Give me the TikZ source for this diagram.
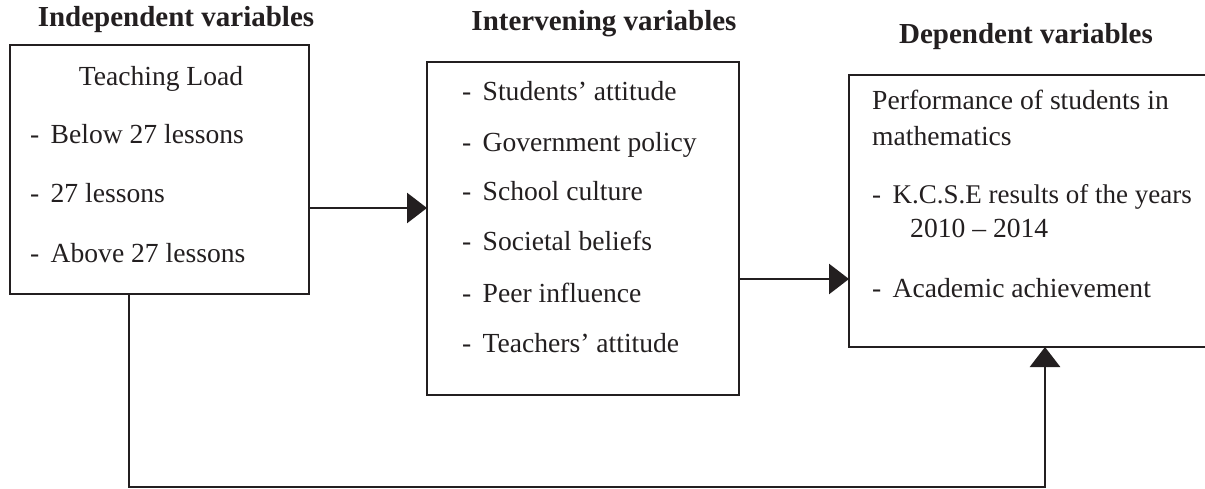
\documentclass[tikz,border=0pt]{standalone}
\usepackage{fontspec}
\setmainfont{Liberation Serif}
\usetikzlibrary{arrows.meta}
\definecolor{ink}{HTML}{231F20}
\newcommand{\bul}[1]{\makebox[20.5pt][l]{-}#1}
\begin{document}
\begin{tikzpicture}[x=1pt,y=-1pt,
  frame/.style={draw=ink, line width=1.5pt, anchor=north west, inner sep=0pt, outer sep=0pt},
  title/.style={anchor=base, inner sep=0pt, text=ink, font=\fontsize{29}{34}\selectfont\bfseries},
  item/.style={anchor=base west, inner sep=0pt, text=ink, font=\fontsize{27.6}{33}\selectfont},
  link/.style={line width=2.8pt, draw=ink, -{Triangle[length=20pt,width=30pt]}}]
\useasboundingbox (0,0) rectangle (1205,489);

% the three frames
\node[frame, minimum width=299pt, minimum height=249pt] (indep) at (10,45) {};
\node[frame, minimum width=312pt, minimum height=333pt] (interv) at (427,62) {};
\node[frame, minimum width=365pt, minimum height=272pt] (dep) at (849,75) {};

% headings
\node[title] (tIndep) at (176,27) {Independent variables};
\node[title] (tInterv) at (604,31) {Intervening variables};
\node[title] (tDep) at (1026,44) {Dependent variables};

% independent variables
\node[item, anchor=base] (load) at (161,86) {Teaching Load};
\node[item] (i1) at (30,144) {\bul{Below 27 lessons}};
\node[item] (i2) at (30,203) {\bul{27 lessons}};
\node[item] (i3) at (30,262) {\bul{Above 27 lessons}};

% intervening variables
\node[item] (v1) at (462,101) {\bul{Students’ attitude}};
\node[item] (v2) at (462,152) {\bul{Government policy}};
\node[item] (v3) at (462,201) {\bul{School culture}};
\node[item] (v4) at (462,251) {\bul{Societal beliefs}};
\node[item] (v5) at (462,302) {\bul{Peer influence}};
\node[item] (v6) at (462,352) {\bul{Teachers’ attitude}};

% dependent variables
\node[item] (d0) at (872,110) {Performance of students in};
\node[item] (d1) at (872,146) {mathematics};
\node[item, font=\fontsize{27}{33}\selectfont] (d2) at (872,204) {\bul{K.C.S.E results of the years}};
\node[item] (d3) at (910,238) {2010 – 2014};
\node[item] (d4) at (872,297) {\bul{Academic achievement}};

% routing helpers
\coordinate (rowA) at (0,208);
\coordinate (rowB) at (0,279);
\coordinate (colA) at (129,0);
\coordinate (colB) at (1045,0);
\coordinate (floor) at (0,487);

% connectors
\draw[link] (indep.east |- rowA) -- (interv.west |- rowA);
\draw[link] (interv.east |- rowB) -- (dep.west |- rowB);
\draw[link] (indep.south -| colA) -- (colA |- floor) -- (colB |- floor) -- (dep.south -| colB);
\end{tikzpicture}
\end{document}
